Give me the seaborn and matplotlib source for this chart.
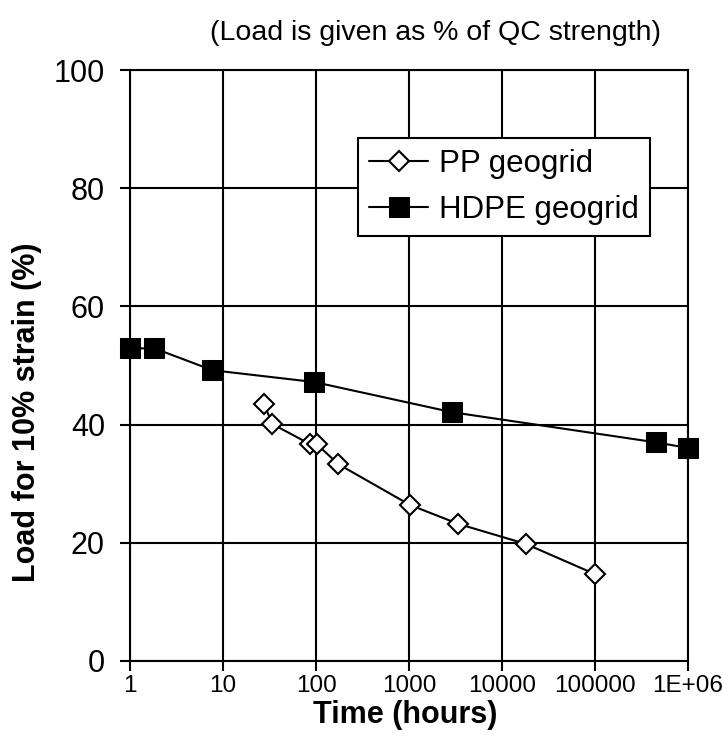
import matplotlib
matplotlib.use("Agg")
import matplotlib.pyplot as plt
import seaborn as sns
import pandas as pd

pp_time = [27.6, 33.9, 86, 101.7, 174, 1025, 3390, 18100, 100000]
pp_load = [43.5, 40.1, 36.7, 36.7, 33.3, 26.4, 23.2, 19.8, 14.7]
hdpe_time = [1, 1.83, 7.7, 96, 2900, 450000, 1000000]
hdpe_load = [52.9, 52.9, 49.2, 47.2, 42.1, 37.0, 36.05]
x_ticks = [1, 10, 100, 1000, 10000, 100000, 1000000]
x_ticklabels = ["1", "10", "100", "1000", "10000", "100000", "1E+06"]
y_ticks = [0, 20, 40, 60, 80, 100]

sns.set_style("ticks")
plt.rcParams['font.family'] = ['Liberation Sans', 'DejaVu Sans']
plt.rcParams['text.color'] = 'black'
plt.rcParams['axes.labelcolor'] = 'black'

W, H = 723, 751
fig = plt.figure(figsize=(W / 100, H / 100), dpi=100)
ax = fig.add_axes([130 / W, 1 - 661 / H, (688 - 130) / W, (661 - 70) / H])

pp = pd.DataFrame({"t": pp_time, "v": pp_load})
hd = pd.DataFrame({"t": hdpe_time, "v": hdpe_load})

sns.lineplot(data=pp, x="t", y="v", ax=ax, color="black", lw=1.5, marker="D",
             markersize=10.5, markerfacecolor="white", markeredgecolor="black",
             markeredgewidth=1.5, estimator=None, sort=False, label="PP geogrid",
             zorder=4, clip_on=False)
sns.lineplot(data=hd, x="t", y="v", ax=ax, color="black", lw=1.5, marker="s",
             markersize=15, markerfacecolor="black", markeredgecolor="black",
             estimator=None, sort=False, label="HDPE geogrid", zorder=4, clip_on=False)

ax.set_xscale("log")
ax.set_xlim(1, 1e6)
ax.set_ylim(0, 100)
ax.set_xticks(x_ticks)
ax.set_xticklabels(x_ticklabels)
ax.minorticks_off()
ax.set_yticks(y_ticks)
ax.grid(True, color="black", lw=1.5)
ax.set_axisbelow(True)
for s in ax.spines.values():
    s.set_visible(True)
    s.set_color("black")
    s.set_linewidth(1.5)
ax.tick_params(axis="x", labelsize=17.5, length=7, width=1.5, pad=3, colors="black", direction="out")
ax.tick_params(axis="y", labelsize=22, length=7, width=1.5, pad=11, colors="black", direction="out")
ax.set_xlabel("Time (hours)", fontsize=22, fontweight="bold")
ax.set_ylabel("Load for 10% strain (%)", fontsize=22, fontweight="bold")
ax.xaxis.set_label_coords((405 - 130) / 558, (661 - 700) / 591)
ax.yaxis.set_label_coords((42 - 130) / 558, (661 - 412) / 591)
fig.text(436 / W, 1 - 33 / H, "(Load is given as % of QC strength)", fontsize=20.5,
         ha="center", va="center")

leg = ax.legend(loc="upper left", bbox_to_anchor=(358 / W, 1 - 138 / H),
                bbox_transform=fig.transFigure, borderaxespad=0, fontsize=22.5,
                frameon=True, fancybox=False, edgecolor="black", framealpha=1,
                handlelength=1.9, handletextpad=0.35, borderpad=0.35, labelspacing=0.5)
leg.get_frame().set_linewidth(1.5)

fig.savefig("out.png", dpi=100)
